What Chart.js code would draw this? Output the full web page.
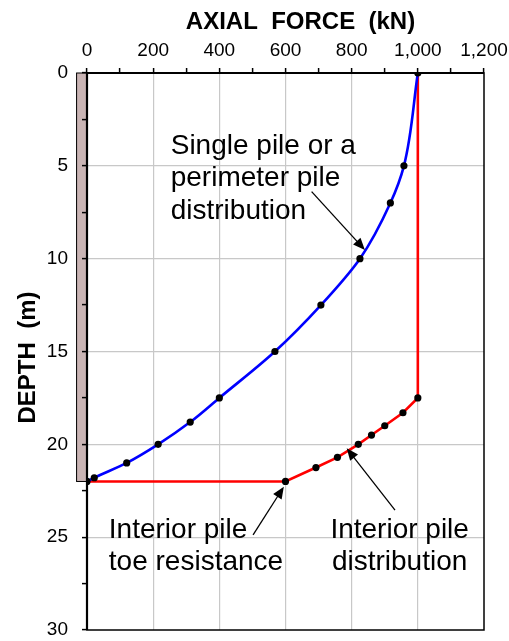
<!DOCTYPE html>
<html>
<head>
<meta charset="utf-8">
<script src="https://cdn.jsdelivr.net/npm/chart.js@4.4.1/dist/chart.umd.min.js"></script>
<style>
  html, body { margin: 0; padding: 0; background: #fff; }
  canvas { display: block; }
</style>
</head>
<body>
<canvas id="chart" width="509" height="641"></canvas>
<script>
// ─── data (force in kN, depth in m) ──────────────────────────────────────────
const singleForce   = [1000, 958, 917, 825, 707, 568, 400, 312, 215, 120, 22, 0];
const singleDepth   = [0, 5, 7, 10, 12.5, 15, 17.5, 18.8, 20, 21, 21.8, 22];

const interiorForce = [0, 600, 692, 757, 820, 860, 900, 955, 1000, 1000];
const interiorDepth = [22, 22, 21.25, 20.7, 20, 19.5, 19, 18.3, 17.5, 0];
const interiorDots  = [false, true, true, true, true, true, true, true, true, false];

const forceTicks = [0, 200, 400, 600, 800, 1000, 1200];
const depthTicks = [0, 5, 10, 15, 20, 25, 30];

const pileToe   = 22;   // m
const pileWidth = 33;   // kN units, drawn left of the depth axis

// annotation text + arrow (tail -> tip), in data units
const notes = [
  { lines: ['Single pile or a', 'perimeter pile', 'distribution'], x: 253, y: 4.36, align: 'left',
    arrow: [[679, 6.39], [840, 9.53]] },
  { lines: ['Interior pile', 'toe resistance'], x: 66, y: 25.04, align: 'left',
    arrow: [[502, 24.88], [595, 22.28]] },
  { lines: ['Interior pile', 'distribution'], x: 945, y: 25.04, align: 'center',
    arrow: [[931, 23.54], [785, 20.21]] },
];

const FONT = '"Liberation Sans", Arial, sans-serif';
const toXY = (xs, ys) => xs.map((x, i) => ({ x, y: ys[i] }));

// ─── plugins ─────────────────────────────────────────────────────────────────
const pilePlugin = {
  id: 'pile',
  beforeDraw(chart) {
    const { ctx, scales: { x, y } } = chart;
    const x0 = x.getPixelForValue(-pileWidth), x1 = x.getPixelForValue(0);
    const y0 = y.getPixelForValue(0), y1 = y.getPixelForValue(pileToe);
    ctx.save();
    ctx.fillStyle = '#c9b4b4';
    ctx.strokeStyle = '#000';
    ctx.lineWidth = 1;
    ctx.fillRect(x0, y0, x1 - x0, y1 - y0);
    ctx.strokeRect(x0 + 0.5, y0, x1 - x0, y1 - y0);
    ctx.restore();
  },
  beforeDatasetsDraw(chart) {
    const { ctx, chartArea: a } = chart;
    ctx.save();
    ctx.strokeStyle = '#000';
    ctx.lineWidth = 1.5;
    ctx.strokeRect(a.left, a.top, a.right - a.left, a.bottom - a.top);
    ctx.lineWidth = 2.2;
    ctx.beginPath();
    ctx.moveTo(a.left, a.bottom); ctx.lineTo(a.left, a.top); ctx.lineTo(a.right, a.top);
    ctx.stroke();
    ctx.restore();
  },
};

function arrow(ctx, tx, ty, hx, hy) {
  const ang = Math.atan2(hy - ty, hx - tx), L = 12, W = 5;
  ctx.beginPath();
  ctx.moveTo(tx, ty);
  ctx.lineTo(hx - Math.cos(ang) * L * 0.8, hy - Math.sin(ang) * L * 0.8);
  ctx.stroke();
  ctx.beginPath();
  ctx.moveTo(hx, hy);
  ctx.lineTo(hx - Math.cos(ang) * L - Math.sin(ang) * W, hy - Math.sin(ang) * L + Math.cos(ang) * W);
  ctx.lineTo(hx - Math.cos(ang) * L + Math.sin(ang) * W, hy - Math.sin(ang) * L - Math.cos(ang) * W);
  ctx.closePath();
  ctx.fill();
}

const notesPlugin = {
  id: 'notes',
  afterDraw(chart) {
    const { ctx, chartArea: a, scales: { x, y } } = chart;
    ctx.save();
    ctx.fillStyle = '#000';
    ctx.strokeStyle = '#000';

    // axis titles
    ctx.font = 'bold 24px ' + FONT;
    ctx.textAlign = 'center';
    ctx.textBaseline = 'alphabetic';
    ctx.fillText('AXIAL  FORCE  (kN)', (a.left + a.right) / 2 + 15, 29);
    ctx.save();
    ctx.translate(35, (a.top + a.bottom) / 2 + 6);
    ctx.rotate(-Math.PI / 2);
    ctx.fillText('DEPTH  (m)', 0, 0);
    ctx.restore();

    // callouts
    ctx.font = '28px ' + FONT;
    ctx.lineWidth = 1.3;
    notes.forEach(n => {
      ctx.textAlign = n.align;
      const px = x.getPixelForValue(n.x), py = y.getPixelForValue(n.y);
      n.lines.forEach((s, i) => ctx.fillText(s, px, py + i * 32.5));
      const [[tx, ty], [hx, hy]] = n.arrow;
      arrow(ctx, x.getPixelForValue(tx), y.getPixelForValue(ty), x.getPixelForValue(hx), y.getPixelForValue(hy));
    });
    ctx.restore();
  },
};

// ─── chart ───────────────────────────────────────────────────────────────────
const gridColor = (major, edges) => c =>
  (c.tick && major.includes(c.tick.value) && !edges.includes(c.tick.value)) ? '#c8c8c8' : 'rgba(0,0,0,0)';

new Chart(document.getElementById('chart'), {
  type: 'scatter',
  data: {
    datasets: [
      {
        label: 'Single pile or a perimeter pile distribution',
        data: toXY(singleForce, singleDepth),
        indexAxis: 'y',
        showLine: true,
        borderColor: '#0000ff', borderWidth: 2.6,
        cubicInterpolationMode: 'monotone',
        pointRadius: 3.6, pointBackgroundColor: '#000', pointBorderWidth: 0,
      },
      {
        label: 'Interior pile',
        data: toXY(interiorForce, interiorDepth),
        showLine: true,
        borderColor: '#ff0000', borderWidth: 2.6,
        tension: 0,
        pointRadius: c => interiorDots[c.dataIndex] ? 3.6 : 0,
        pointBackgroundColor: '#000', pointBorderWidth: 0,
      },
    ],
  },
  options: {
    responsive: false, animation: false,
    layout: { padding: { left: 0, top: 0, right: 25, bottom: 11 } },
    plugins: { legend: { display: false }, tooltip: { enabled: false } },
    scales: {
      x: {
        type: 'linear', position: 'top',
        min: forceTicks[0], max: forceTicks[forceTicks.length - 1],
        afterFit: s => { s.height = 73; s.paddingLeft = 0; s.paddingRight = 0; },
        border: { display: false },
        grid: { color: gridColor(forceTicks, [0, 1200]), lineWidth: 1.2, tickColor: '#000', tickLength: 5, tickWidth: 1.5 },
        ticks: {
          stepSize: 100, autoSkip: false, maxRotation: 0, padding: 6, color: '#000',
          font: { family: FONT, size: 19 },
          callback: v => forceTicks.includes(v) ? v.toLocaleString('en-US') : '',
        },
      },
      y: {
        type: 'linear', reverse: true,
        min: depthTicks[0], max: depthTicks[depthTicks.length - 1],
        afterFit: s => { s.width = 87; s.paddingTop = 0; s.paddingBottom = 0; },
        border: { display: false },
        grid: { color: gridColor(depthTicks, [0, 30]), lineWidth: 1.2, tickColor: '#000', tickLength: 5, tickWidth: 1.5 },
        ticks: {
          stepSize: 2.5, autoSkip: false, padding: 14, color: '#000',
          font: { family: FONT, size: 19 },
          callback: v => depthTicks.includes(v) ? String(v) : '',
        },
      },
    },
  },
  plugins: [pilePlugin, notesPlugin],
});
</script>
</body>
</html>
